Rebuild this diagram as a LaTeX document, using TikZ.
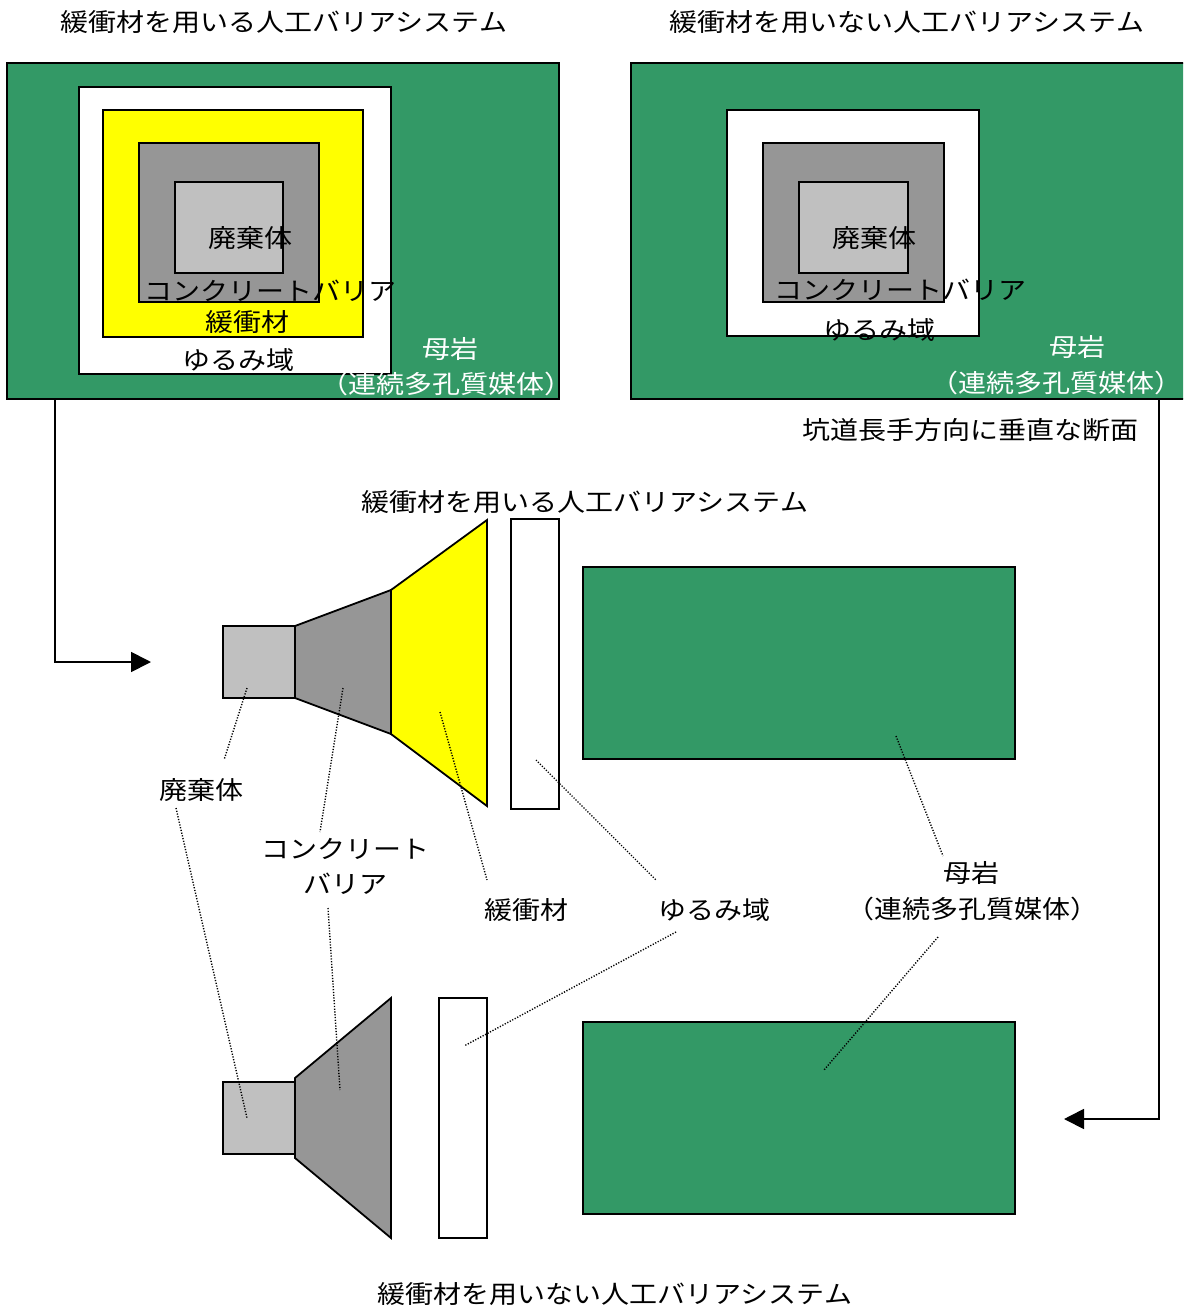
\documentclass[tikz,border=0pt]{standalone}
\usepackage{fontspec}
\setmainfont{Noto Sans CJK JP}[FakeStretch=1.12]
\usetikzlibrary{arrows.meta}
\definecolor{rock}{HTML}{339966}
\definecolor{wastec}{HTML}{C0C0C0}
\definecolor{concc}{HTML}{969696}
\definecolor{bufc}{HTML}{FFFF00}
\begin{document}
\begin{tikzpicture}[x=1pt,y=-1pt,
  part/.style={draw=black,line width=1.8pt,line join=miter},
  lbl/.style={inner sep=0pt,font=\fontsize{25}{29}\selectfont},
  wlbl/.style={lbl,text=white},
  leader/.style={line width=1.4pt,dash pattern=on 1.2pt off 1.6pt},
  flow/.style={line width=1.8pt,-{Triangle[length=20pt,width=20pt]}}]
\clip (0,0) rectangle (1183,1308);
\fill[white] (0,0) rectangle (1183,1308);

% ---- top-left cross-section (with buffer)
\node[lbl] (t1) at (284,22) {緩衝材を用いる人工バリアシステム};
\draw[part,fill=rock] (7,63) rectangle (559,399);
\draw[part,fill=white] (79,87) rectangle (391,374);
\draw[part,fill=bufc] (103,110) rectangle (363,337);
\draw[part,fill=concc] (139,143) rectangle (319,302);
\draw[part,fill=wastec] (175,182) rectangle (283,273);
\node[lbl] (w1) at (250,238) {廃棄体};
\node[lbl] (c1) at (270,291) {コンクリートバリア};
\node[lbl] (b1) at (247,322) {緩衝材};
\node[lbl] (y1) at (238,360) {ゆるみ域};
\node[wlbl] (r1) at (450,349) {母岩};
\node[wlbl] (r1b) at (446,384) {（連続多孔質媒体）};

% ---- top-right cross-section (without buffer)
\node[lbl] (t2) at (907,22) {緩衝材を用いない人工バリアシステム};
\draw[part,fill=rock] (631,63) rectangle (1200,399);
\draw[part,fill=white] (727,110) rectangle (979,336);
\draw[part,fill=concc] (763,143) rectangle (944,302);
\draw[part,fill=wastec] (799,182) rectangle (908,273);
\node[lbl] (w2) at (874,238) {廃棄体};
\node[lbl] (c2) at (900,290) {コンクリートバリア};
\node[lbl] (y2) at (879,330) {ゆるみ域};
\node[wlbl] (r2) at (1077,347) {母岩};
\node[wlbl] (r2b) at (1056,383) {（連続多孔質媒体）};
\node[lbl] (sec) at (970,430) {坑道長手方向に垂直な断面};

% ---- flow arrows
\coordinate (fa1) at (55,399);
\coordinate (fa2) at (151,662);
\draw[flow] (fa1) |- (fa2);
\coordinate (fb1) at (1159,399);
\coordinate (fb2) at (1064,1119);
\draw[flow] (fb1) |- (fb2);

% ---- middle longitudinal view (with buffer)
\node[lbl] (t3) at (585,502) {緩衝材を用いる人工バリアシステム};
\draw[part,fill=wastec] (223,626) rectangle (295,698);
\draw[part,fill=concc] (295,626) -- (391,590) -- (391,734) -- (295,698) -- cycle;
\draw[part,fill=bufc] (391,590) -- (487,520) -- (487,806) -- (391,734) -- cycle;
\draw[part,fill=white] (511,519) rectangle (559,809);
\draw[part,fill=rock] (583,567) rectangle (1015,759);

% ---- lower longitudinal view (without buffer)
\draw[part,fill=wastec] (223,1082) rectangle (295,1154);
\draw[part,fill=concc] (295,1078) -- (391,998) -- (391,1238) -- (295,1158) -- cycle;
\draw[part,fill=white] (439,998) rectangle (487,1238);
\draw[part,fill=rock] (583,1022) rectangle (1015,1214);
\node[lbl] (t4) at (615,1294) {緩衝材を用いない人工バリアシステム};

% ---- shared labels
\node[lbl] (lw) at (201,790) {廃棄体};
\node[lbl] (lc) at (345,849) {コンクリート};
\node[lbl] (lc2) at (345,884) {バリア};
\node[lbl] (lb) at (526,910) {緩衝材};
\node[lbl] (ly) at (714,910) {ゆるみ域};
\node[lbl] (lr) at (971,873) {母岩};
\node[lbl] (lr2) at (972,909) {（連続多孔質媒体）};

% ---- leader lines
\coordinate (p1a) at (247,688); \coordinate (p1b) at (224,760);
\coordinate (p2a) at (343,688); \coordinate (p2b) at (320,832);
\coordinate (p3a) at (440,712); \coordinate (p3b) at (487,880);
\coordinate (p4a) at (536,760); \coordinate (p4b) at (656,880);
\coordinate (p5a) at (896,736); \coordinate (p5b) at (943,856);
\coordinate (p6a) at (176,808); \coordinate (p6b) at (247,1118);
\coordinate (p7a) at (328,908); \coordinate (p7b) at (340,1090);
\coordinate (p8a) at (676,932); \coordinate (p8b) at (464,1046);
\coordinate (p9a) at (938,937); \coordinate (p9b) at (824,1070);
\foreach \i in {1,...,9} {\draw[leader] (p\i a) -- (p\i b);}
\end{tikzpicture}
\end{document}
